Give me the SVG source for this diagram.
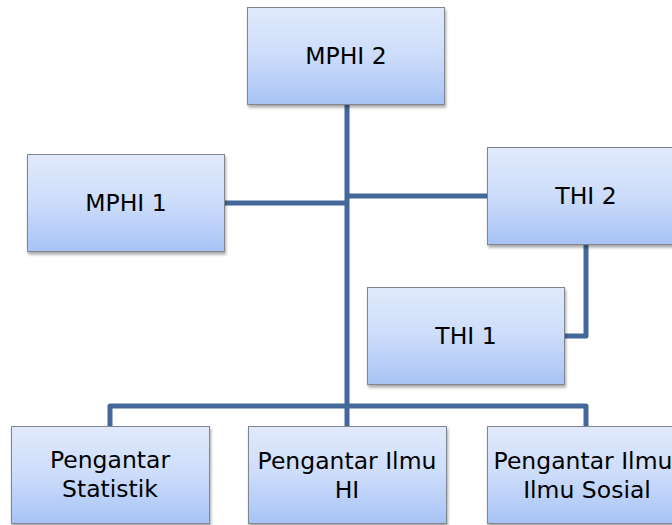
<svg xmlns="http://www.w3.org/2000/svg" width="672" height="525" viewBox="0 0 672 525">
<defs>
<linearGradient id="g" x1="0" y1="0" x2="0" y2="1">
<stop offset="0" stop-color="#e1eafb"/>
<stop offset="0.5" stop-color="#ccdcfa"/>
<stop offset="1" stop-color="#a7c3f5"/>
</linearGradient>
<filter id="sh" x="-10%" y="-10%" width="125%" height="130%">
<feDropShadow dx="1" dy="2.5" stdDeviation="1.5" flood-color="#000" flood-opacity="0.35"/>
</filter>
</defs>
<style>
.box{fill:url(#g);stroke:#7f8690;stroke-width:1;filter:url(#sh)}
.t{font-family:"DejaVu Sans",Verdana,sans-serif;font-size:23.5px;fill:#000;text-anchor:middle}
.c{fill:none;stroke:#44689a;stroke-width:5;stroke-linejoin:round}
</style>
<rect width="672" height="525" fill="#fff"/>
<g id="connectors">
<path class="c" d="M347,105 V406"/>
<path class="c" d="M224,203 H347"/>
<path class="c" d="M347,196 H487"/>
<path class="c" d="M586,244 V336 H565"/>
<path class="c" d="M110,426 V406 H586 V426"/>
<path class="c" d="M347,406 V426"/>
</g>
<g id="mphi2">
<rect class="box" x="247.5" y="7.5" width="197" height="97"/>
<text class="t" x="346" y="64">MPHI 2</text>
</g>
<g id="mphi1">
<rect class="box" x="27.5" y="154.5" width="197" height="97"/>
<text class="t" x="126" y="211">MPHI 1</text>
</g>
<g id="thi2">
<rect class="box" x="487.5" y="147.5" width="197" height="97"/>
<text class="t" x="586" y="204">THI 2</text>
</g>
<g id="thi1">
<rect class="box" x="367.5" y="287.5" width="197" height="97"/>
<text class="t" x="466" y="344">THI 1</text>
</g>
<g id="stat">
<rect class="box" x="11.5" y="426.5" width="198" height="97"/>
<text class="t" x="110" y="468">Pengantar</text>
<text class="t" x="110" y="497">Statistik</text>
</g>
<g id="hi">
<rect class="box" x="248.5" y="426.5" width="198" height="97"/>
<text class="t" x="347" y="469">Pengantar Ilmu</text>
<text class="t" x="347" y="498">HI</text>
</g>
<g id="sosial">
<rect class="box" x="487.5" y="426.5" width="198" height="97"/>
<text class="t" x="583" y="469">Pengantar Ilmu</text>
<text class="t" x="587" y="498">Ilmu Sosial</text>
</g>
</svg>
